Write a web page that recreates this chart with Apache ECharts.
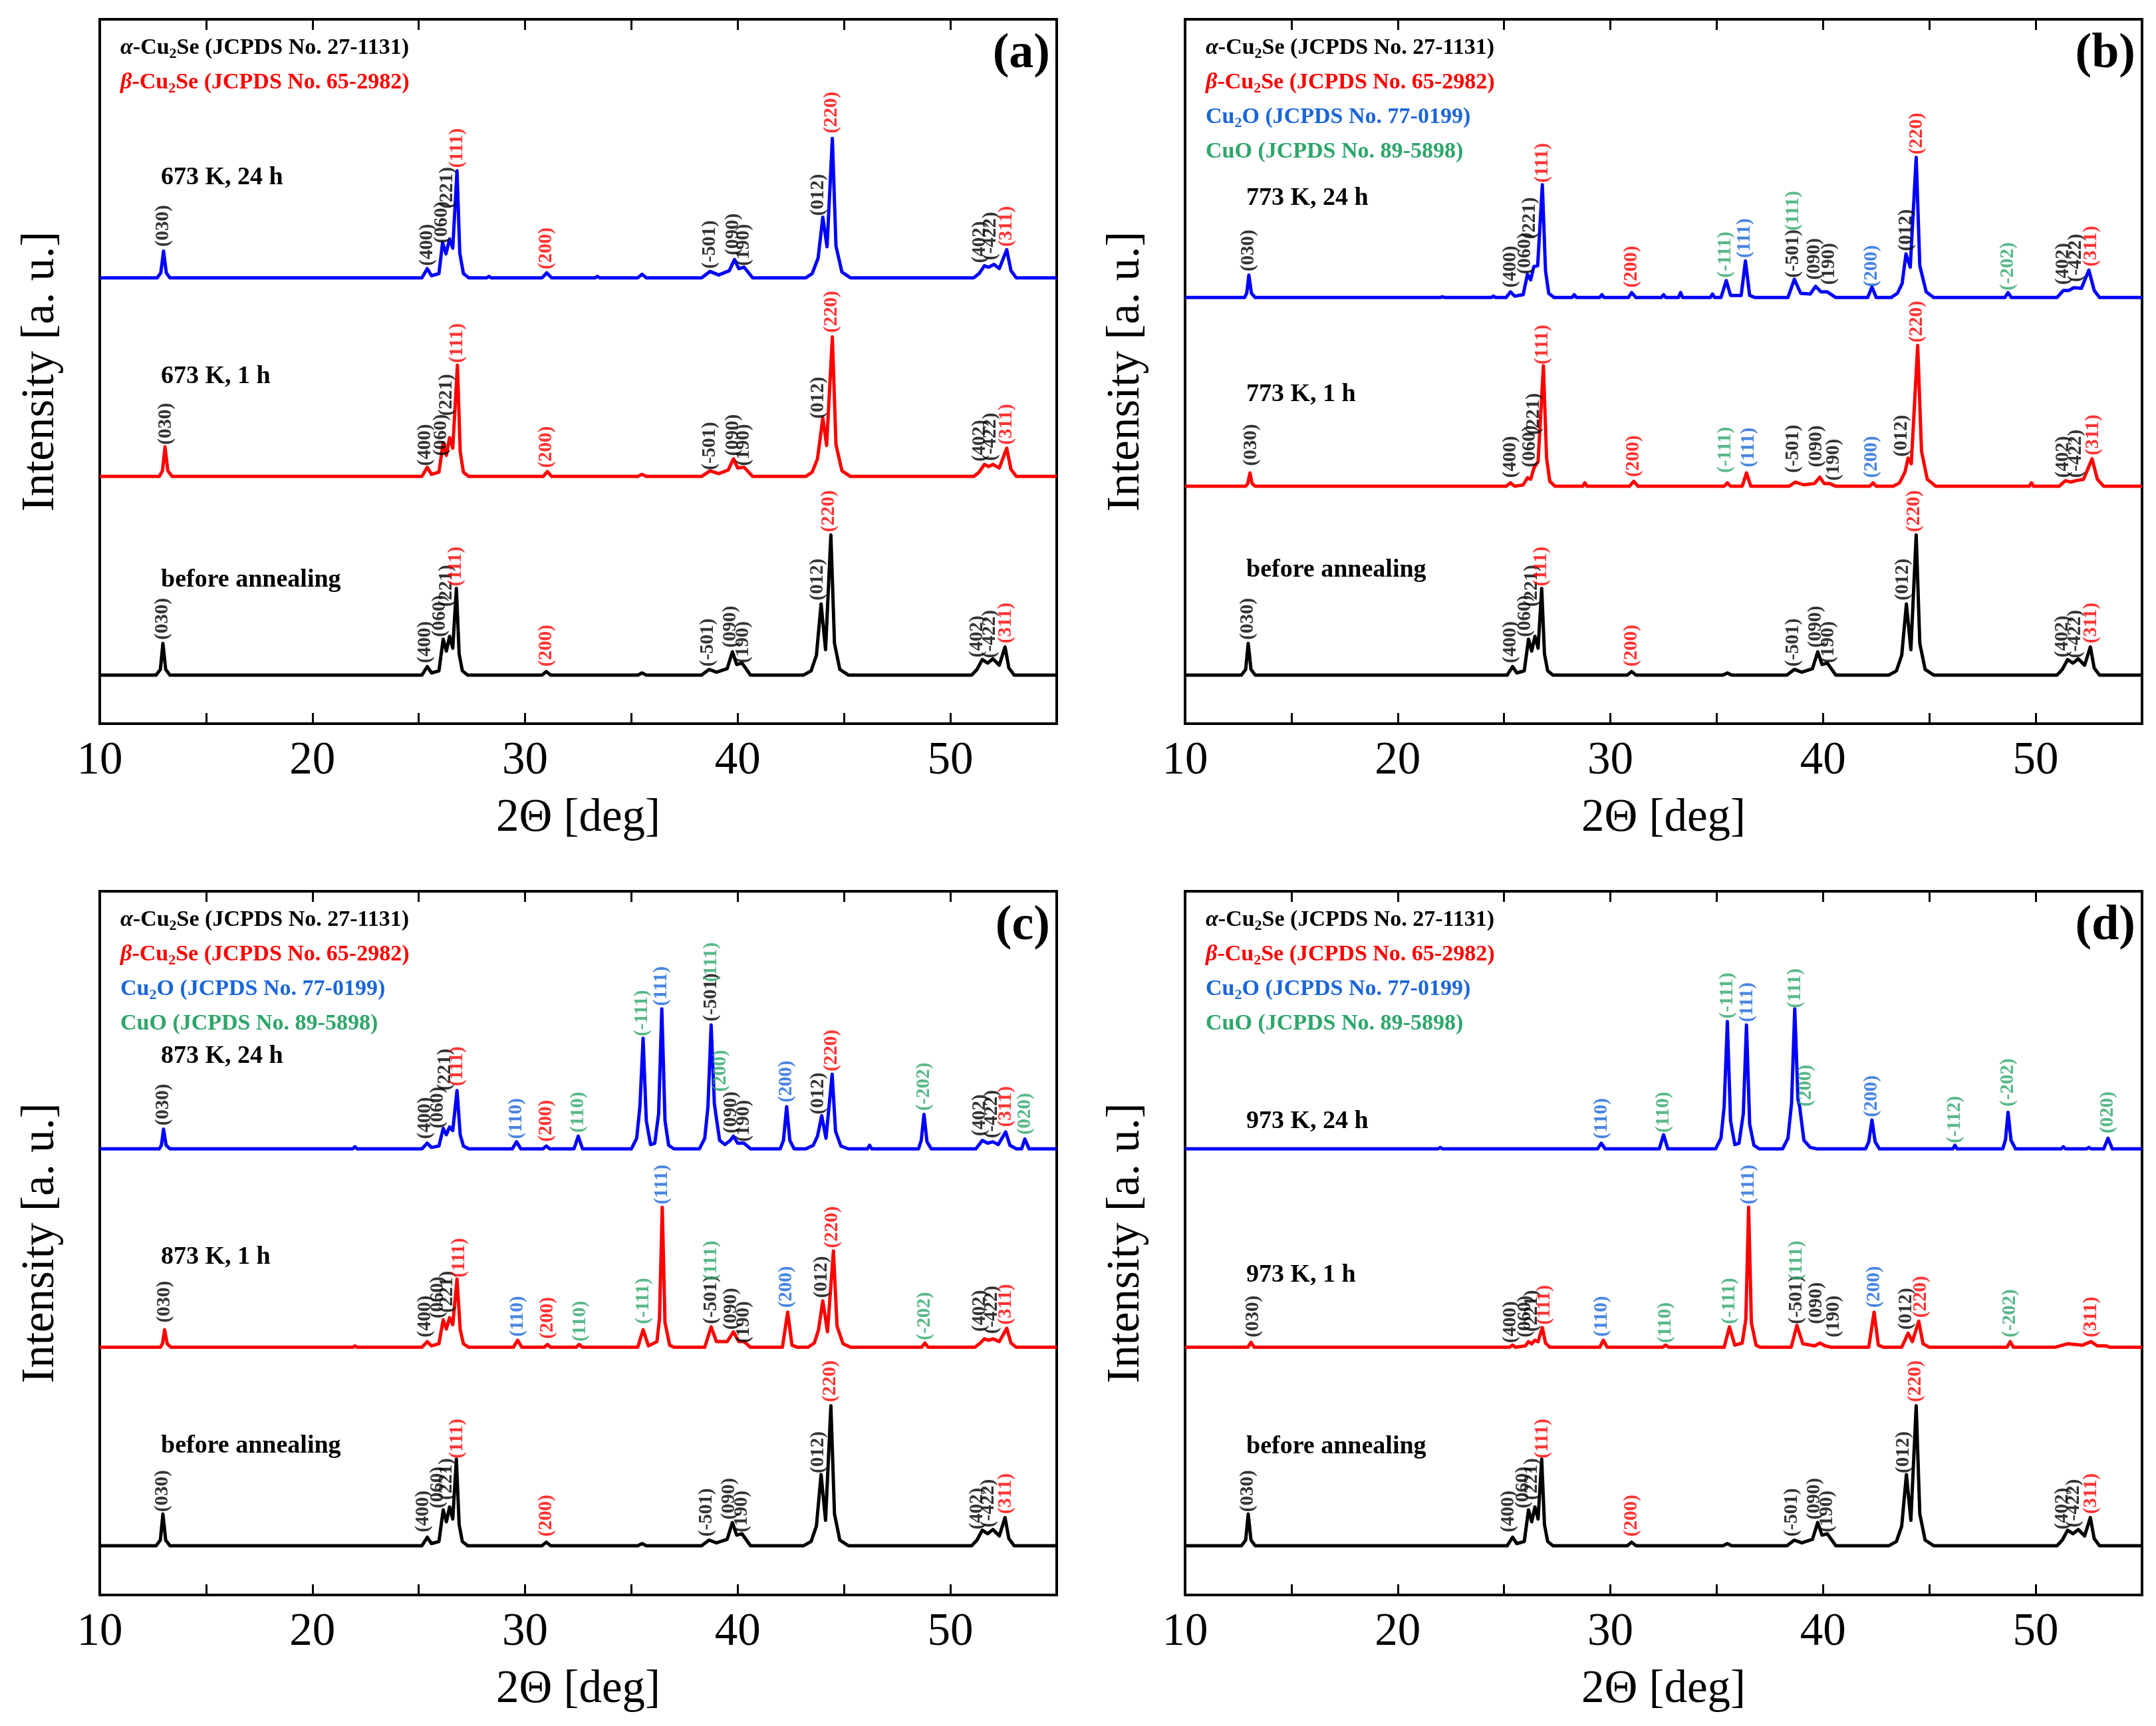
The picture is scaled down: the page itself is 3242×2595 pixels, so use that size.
<!DOCTYPE html>
<html>
<head>
<meta charset="utf-8">
<script src="https://cdn.jsdelivr.net/npm/echarts/dist/echarts.min.js"></script>
<style>
  html, body { margin: 0; padding: 0; background: #fff; }
  #chart { width: 3242px; height: 2595px; }
</style>
</head>
<body>
<div id="chart"></div>
<script>
// ---- data (2theta in deg, intensity in % of panel height above each baseline) ----
var phaseColors = ['#000000', '#ff0000', '#1a66d9', '#2ea66a'];
var phaseNames = [
  '{i|α}-Cu{s|2}Se (JCPDS No. 27-1131)',
  '{i|β}-Cu{s|2}Se (JCPDS No. 65-2982)',
  'Cu{s|2}O (JCPDS No. 77-0199)',
  'CuO (JCPDS No. 89-5898)'
];
var traceColors = ['#000000', '#ff0000', '#0000ff'];
var xTicks = [10, 20, 30, 40, 50];

// baselines of the three patterns per panel: [before, 1 h, 24 h]
var baseA = [6.9, 35.1, 63.3];
var baseB = [6.9, 33.7, 60.5];
var baseC = [7.0, 35.2, 63.4];
var baseD = [7.0, 35.2, 63.4];

var namesA = ['before annealing', '673 K, 1 h', '673 K, 24 h'];
var namesB = ['before annealing', '773 K, 1 h', '773 K, 24 h'];
var namesC = ['before annealing', '873 K, 1 h', '873 K, 24 h'];
var namesD = ['before annealing', '973 K, 1 h', '973 K, 24 h'];

// as-prepared sample (same pattern in all four panels)
var before = [[10,0],[12.65,0],[12.85,0.8],[12.97,4.5],[13.1,0.8],[13.3,0],
  [25.15,0],[25.4,1.2],[25.6,0.3],[25.95,0.6],[26.15,5.1],[26.3,3.4],[26.45,5.5],[26.6,3.8],[26.77,12.3],[26.9,3.0],[27.05,0.6],[27.3,0],
  [30.8,0],[31.0,0.5],[31.2,0],
  [35.3,0],[35.5,0.3],[35.7,0],
  [38.3,0],[38.65,0.8],[39.0,0.4],[39.5,0.9],[39.75,3.3],[39.95,1.5],[40.2,1.7],[40.6,0],
  [43.1,0],[43.45,0.6],[43.7,2.8],[43.92,10.1],[44.13,3.6],[44.38,19.9],[44.55,4.5],[44.8,0.8],[45.2,0],
  [51.0,0],[51.25,0.8],[51.5,2.2],[51.75,1.7],[52.0,2.3],[52.3,1.4],[52.57,4.0],[52.75,1.0],[53.0,0],
  [55,0]];

var a1h = [[10,0],[12.8,0],[12.95,0.8],[13.07,4.2],[13.2,0.8],[13.4,0],
  [25.15,0],[25.4,1.3],[25.6,0.3],[25.95,0.6],[26.15,4.8],[26.3,3.0],[26.45,5.5],[26.6,4.0],[26.82,15.8],[26.95,3.5],[27.1,0.6],[27.35,0],
  [30.85,0],[31.05,0.7],[31.25,0],
  [35.3,0],[35.5,0.3],[35.7,0],
  [38.3,0],[38.7,0.8],[39.1,0.4],[39.55,0.9],[39.8,2.5],[40.0,1.2],[40.3,1.3],[40.7,0],
  [43.2,0],[43.5,0.6],[43.75,2.5],[44.0,8.3],[44.18,4.4],[44.45,19.8],[44.62,4.5],[44.9,0.8],[45.3,0],
  [51.1,0],[51.35,0.6],[51.6,1.7],[51.8,1.4],[52.0,1.7],[52.3,1.2],[52.65,4.0],[52.85,1.0],[53.1,0],
  [55,0]];

var a24h = [[10,0],[12.7,0],[12.87,0.7],[13.0,3.8],[13.13,0.7],[13.3,0],
  [25.15,0],[25.4,1.3],[25.6,0.3],[25.95,0.6],[26.12,5.0],[26.28,3.4],[26.45,5.5],[26.6,4.2],[26.8,15.2],[26.93,3.5],[27.1,0.6],[27.35,0],
  [28.2,0],[28.3,0.2],[28.4,0],
  [30.8,0],[31.02,0.7],[31.25,0],
  [33.3,0],[33.4,0.2],[33.5,0],
  [35.3,0],[35.5,0.5],[35.7,0],
  [38.3,0],[38.7,0.9],[39.1,0.4],[39.6,1.0],[39.85,2.6],[40.05,1.3],[40.3,1.5],[40.7,0],
  [43.2,0],[43.5,0.6],[43.78,2.8],[44.0,8.6],[44.2,4.4],[44.45,19.8],[44.62,4.5],[44.9,0.8],[45.3,0],
  [51.1,0],[51.35,0.6],[51.6,1.7],[51.8,1.5],[52.05,1.9],[52.3,1.3],[52.65,4.0],[52.85,1.0],[53.1,0],
  [55,0]];

var b1h = [[10,0],[12.85,0],[12.95,0.4],[13.05,1.9],[13.15,0.4],[13.3,0],
  [25.1,0],[25.3,0.5],[25.5,0],[25.9,0.2],[26.1,1.2],[26.25,1.0],[26.42,2.7],[26.6,3.5],[26.85,17.1],[27.0,4.0],[27.15,0.7],[27.4,0],
  [28.7,0],[28.8,0.5],[28.9,0],
  [30.9,0],[31.1,0.7],[31.3,0],
  [35.35,0],[35.5,0.5],[35.65,0],
  [36.2,0],[36.4,1.9],[36.6,0],
  [38.4,0],[38.7,0.6],[39.1,0.2],[39.6,0.4],[39.85,1.3],[40.05,0.4],[40.3,0.4],[40.6,0],
  [42.2,0],[42.35,0.5],[42.5,0],
  [43.3,0],[43.6,0.5],[43.85,2.0],[44.0,4.0],[44.15,3.2],[44.45,20.0],[44.63,5.0],[44.9,1.0],[45.3,0],
  [49.7,0],[49.8,0.5],[49.9,0],
  [51.1,0],[51.4,0.8],[51.65,0.6],[51.9,0.8],[52.25,1.0],[52.65,3.9],[52.9,1.0],[53.2,0],
  [55,0]];

var b24h = [[10,0],[12.8,0],[12.9,0.6],[13.0,3.2],[13.12,0.6],[13.3,0],
  [22.0,0],[22.1,0.1],[22.2,0],
  [24.4,0],[24.5,0.2],[24.6,0],
  [25.1,0],[25.3,0.8],[25.5,0.2],[25.9,0.4],[26.1,3.3],[26.25,2.5],[26.4,4.4],[26.58,4.5],[26.8,16.0],[26.95,3.8],[27.1,0.6],[27.35,0],
  [28.2,0],[28.3,0.4],[28.4,0],
  [29.5,0],[29.6,0.4],[29.7,0],
  [30.85,0],[31.0,0.7],[31.2,0],
  [32.4,0],[32.5,0.4],[32.6,0],
  [33.2,0],[33.3,0.7],[33.4,0],
  [34.7,0],[34.8,0.5],[34.9,0],
  [35.2,0],[35.45,2.4],[35.65,0.3],[36.15,0.3],[36.35,5.2],[36.55,0.3],[36.8,0],
  [38.35,0],[38.65,2.6],[38.95,0.6],[39.4,0.5],[39.65,1.6],[39.9,0.8],[40.2,0.8],[40.6,0],
  [42.1,0],[42.3,1.5],[42.5,0],
  [43.2,0],[43.5,0.6],[43.72,2.0],[43.9,6.2],[44.1,4.3],[44.38,19.9],[44.55,4.5],[44.85,0.8],[45.2,0],
  [48.55,0],[48.7,0.7],[48.85,0],
  [51.0,0],[51.3,1.0],[51.55,1.0],[51.8,1.4],[52.15,1.3],[52.5,3.9],[52.75,1.0],[53.0,0],
  [55,0]];

var c1h = [[10,0],[12.85,0],[12.95,0.5],[13.05,2.5],[13.17,0.5],[13.35,0],
  [21.9,0],[22.0,0.2],[22.1,0],
  [25.15,0],[25.4,0.8],[25.6,0.2],[25.95,0.5],[26.15,3.9],[26.3,2.6],[26.45,4.2],[26.6,3.2],[26.8,9.7],[26.95,2.5],[27.1,0.5],[27.35,0],
  [29.45,0],[29.65,1.0],[29.85,0],
  [30.9,0],[31.05,0.4],[31.2,0],
  [32.4,0],[32.55,0.4],[32.7,0],
  [35.3,0],[35.55,2.5],[35.8,0.2],[36.2,0.8],[36.32,4.0],[36.45,19.9],[36.58,3.5],[36.8,0.3],[37.0,0],
  [38.45,0],[38.75,2.9],[39.0,0.8],[39.5,0.8],[39.8,2.2],[40.05,0.8],[40.3,0.8],[40.6,0],
  [42.1,0],[42.35,5.0],[42.55,0.3],[42.8,0],
  [43.3,0],[43.6,0.6],[43.8,2.5],[44.0,6.6],[44.22,2.2],[44.5,13.7],[44.67,3.0],[44.95,0.5],[45.3,0],
  [48.65,0],[48.8,0.6],[48.95,0],
  [51.15,0],[51.4,0.6],[51.6,1.2],[51.8,1.0],[52.0,1.2],[52.3,0.8],[52.65,2.7],[52.85,0.6],[53.1,0],
  [55,0]];

var c24h = [[10,0],[12.8,0],[12.9,0.5],[13.0,2.8],[13.12,0.5],[13.3,0],
  [21.9,0],[22.0,0.3],[22.1,0],
  [25.15,0],[25.4,0.8],[25.6,0.2],[25.95,0.4],[26.15,2.9],[26.3,2.0],[26.45,3.1],[26.6,2.6],[26.8,8.3],[26.95,2.0],[27.1,0.4],[27.35,0],
  [29.4,0],[29.6,1.0],[29.8,0],
  [30.85,0],[31.0,0.4],[31.15,0],
  [32.3,0],[32.5,1.8],[32.7,0],
  [35.0,0],[35.25,1.5],[35.4,6.0],[35.55,15.7],[35.7,4.0],[35.9,0.6],[36.1,0.8],[36.28,5.0],[36.43,19.9],[36.58,4.0],[36.75,0.5],[37.0,0],
  [38.2,0],[38.45,1.5],[38.6,6.0],[38.75,17.6],[38.9,6.5],[38.97,4.9],[39.15,1.2],[39.4,0.6],[39.65,1.2],[39.8,1.8],[40.0,0.8],[40.3,0.8],[40.6,0],
  [42.0,0],[42.15,1.2],[42.3,6.0],[42.45,1.2],[42.65,0],
  [43.2,0],[43.55,0.5],[43.75,1.8],[43.95,4.7],[44.15,1.5],[44.44,10.6],[44.6,2.5],[44.85,0.4],[45.2,0],
  [46.1,0],[46.2,0.5],[46.3,0],
  [48.5,0],[48.63,1.2],[48.76,4.9],[48.9,1.0],[49.1,0],
  [51.2,0],[51.5,1.2],[51.75,0.8],[52.0,1.0],[52.25,0.6],[52.6,2.4],[52.8,0.5],[53.1,0],[53.35,0],[53.5,1.4],[53.7,0],
  [55,0]];

var d1h = [[10,0],[12.95,0],[13.1,0.7],[13.25,0],
  [25.25,0],[25.4,0.3],[25.55,0],[26.0,0.2],[26.15,0.8],[26.3,0.5],[26.45,1.0],[26.6,0.8],[26.8,2.8],[26.95,0.6],[27.15,0],
  [29.5,0],[29.67,1.0],[29.85,0],
  [32.45,0],[32.6,0.3],[32.75,0],
  [35.35,0],[35.6,2.9],[35.85,0.3],[36.2,0.6],[36.37,4.0],[36.5,19.9],[36.63,3.5],[36.85,0.3],[37.05,0],
  [38.5,0],[38.77,3.1],[39.05,0.5],[39.6,0.2],[39.85,0.6],[40.1,0.2],[40.4,0],
  [42.15,0],[42.4,5.0],[42.6,0.3],[42.85,0],
  [43.7,0],[44.0,2.0],[44.2,0.8],[44.5,3.7],[44.7,0.5],[45.0,0],
  [48.65,0],[48.8,0.8],[48.95,0],
  [50.9,0],[51.5,0.5],[52.2,0.3],[52.6,0.8],[52.9,0.2],[53.3,0.2],[53.5,0],
  [55,0]];

var d24h = [[10,0],[21.9,0],[22.0,0.2],[22.1,0],
  [29.4,0],[29.57,0.8],[29.75,0],
  [32.3,0],[32.5,2.0],[32.7,0],
  [34.95,0],[35.2,1.5],[35.35,6.0],[35.5,18.1],[35.65,4.0],[35.85,0.6],[36.05,0.8],[36.25,5.0],[36.4,17.6],[36.55,3.5],[36.75,0.5],[37.0,0],
  [38.1,0],[38.35,1.5],[38.52,6.5],[38.67,19.9],[38.82,7.0],[38.9,6.0],[39.1,1.2],[39.4,0.2],[39.7,0],
  [42.0,0],[42.15,1.0],[42.3,4.1],[42.45,1.0],[42.65,0],
  [46.1,0],[46.2,0.5],[46.3,0],
  [48.45,0],[48.58,1.3],[48.7,5.2],[48.84,1.2],[49.05,0],
  [51.2,0],[51.3,0.3],[51.4,0],[52.4,0],[52.5,0.2],[52.6,0],
  [53.2,0],[53.4,1.5],[53.6,0],
  [55,0]];

// peak labels: [2theta, label foot above baseline, text, phase]
var labBeforeAB = [[12.97,5.0,'(030)',0],[25.3,1.7,'(400)',0],[26.0,5.4,'(060)',0],[26.3,9.7,'(221)',0],[26.75,12.6,'(111)',1],[31.0,1.2,'(200)',1],[38.6,1.2,'(-501)',0],[39.65,3.9,'(090)',0],[40.25,1.7,'(190)',0],[43.75,10.6,'(012)',0],[44.3,20.3,'(220)',1],[51.25,2.5,'(402)',0],[51.85,2.4,'(-422)',0],[52.6,4.5,'(311)',1]];
var labBeforeCD = [[12.97,4.8,'(030)',0],[25.2,1.9,'(400)',0],[25.9,5.3,'(060)',0],[26.3,6.5,'(221)',0],[26.8,12.4,'(111)',1],[31.0,1.3,'(200)',1],[38.55,1.3,'(-501)',0],[39.6,3.7,'(090)',0],[40.2,1.9,'(190)',0],[43.8,10.3,'(012)',0],[44.35,20.4,'(220)',1],[51.25,2.3,'(402)',0],[51.8,2.6,'(-422)',0],[52.6,4.5,'(311)',1]];
var labA1h = [[13.1,4.5,'(030)',0],[25.3,1.5,'(400)',0],[26.05,2.9,'(060)',0],[26.3,8.6,'(221)',0],[26.8,16.1,'(111)',1],[31.0,1.2,'(200)',1],[38.7,0.9,'(-501)',0],[39.8,2.9,'(090)',0],[40.3,1.5,'(190)',0],[43.8,8.2,'(012)',0],[44.4,20.4,'(220)',1],[51.4,2.1,'(402)',0],[51.9,2.2,'(-422)',0],[52.65,4.5,'(311)',1]];
var labA24h = [[13.0,4.4,'(030)',0],[25.4,1.7,'(400)',0],[26.1,4.9,'(060)',0],[26.35,9.8,'(221)',0],[26.8,15.6,'(111)',1],[31.0,1.2,'(200)',1],[38.7,1.3,'(-501)',0],[39.8,3.2,'(090)',0],[40.3,1.7,'(190)',0],[43.8,8.8,'(012)',0],[44.4,20.5,'(220)',1],[51.4,2.1,'(402)',0],[51.9,2.5,'(-422)',0],[52.65,4.4,'(311)',1]];
var labB1h = [[13.1,2.9,'(030)',0],[25.3,1.2,'(400)',0],[26.2,2.7,'(060)',0],[26.4,7.3,'(221)',0],[26.8,17.3,'(111)',1],[31.1,1.3,'(200)',1],[35.4,1.9,'(-111)',3],[36.5,2.7,'(111)',2],[38.6,1.9,'(-501)',0],[39.7,2.7,'(090)',0],[40.5,0.8,'(190)',0],[42.3,1.2,'(200)',2],[43.7,4.2,'(012)',0],[44.4,20.4,'(220)',1],[51.3,1.2,'(402)',0],[51.9,1.2,'(-422)',0],[52.7,4.4,'(311)',1]];
var labB24h = [[13.0,3.7,'(030)',0],[25.3,1.4,'(400)',0],[26.0,3.3,'(060)',0],[26.2,8.3,'(221)',0],[26.8,16.3,'(111)',1],[31.0,1.4,'(200)',1],[35.4,2.8,'(-111)',3],[36.3,5.6,'(111)',2],[38.6,2.8,'(-501)',0],[38.6,9.5,'(111)',3],[39.6,2.5,'(090)',0],[40.3,1.8,'(190)',0],[42.3,1.5,'(200)',2],[43.9,6.6,'(012)',0],[44.4,20.3,'(220)',1],[48.7,1.0,'(-202)',3],[51.3,1.8,'(402)',0],[51.9,2.2,'(-422)',0],[52.6,4.4,'(311)',1]];
var labC1h = [[13.05,3.5,'(030)',0],[25.3,1.4,'(400)',0],[25.9,4.1,'(060)',0],[26.35,4.9,'(221)',0],[26.9,9.9,'(111)',1],[29.65,1.5,'(110)',2],[31.05,1.2,'(200)',1],[32.6,0.8,'(110)',3],[35.55,3.3,'(-111)',3],[36.45,20.3,'(111)',2],[38.75,3.3,'(-501)',0],[38.75,9.5,'(111)',3],[39.7,2.5,'(090)',0],[40.3,0.6,'(190)',0],[42.3,5.6,'(200)',2],[43.95,7.0,'(012)',0],[44.45,14.1,'(220)',1],[48.8,1.0,'(-202)',3],[51.4,2.2,'(402)',0],[51.95,1.9,'(-422)',0],[52.6,3.2,'(311)',1]];
var labC24h = [[13.0,3.3,'(030)',0],[25.3,1.4,'(400)',0],[25.9,2.9,'(060)',0],[26.25,8.3,'(221)',0],[26.8,8.9,'(111)',1],[29.6,1.4,'(110)',2],[31.0,1.0,'(200)',1],[32.5,2.3,'(110)',3],[35.5,16.0,'(-111)',3],[36.4,20.3,'(111)',2],[38.75,18.1,'(-501)',0],[38.75,23.7,'(111)',3],[39.2,8.1,'(200)',3],[39.7,2.2,'(090)',0],[40.3,1.0,'(190)',0],[42.3,6.6,'(200)',2],[43.8,4.9,'(012)',0],[44.4,11.0,'(220)',1],[48.76,5.4,'(-202)',3],[51.4,1.8,'(402)',0],[51.95,1.5,'(-422)',0],[52.6,3.1,'(311)',1],[53.5,2.0,'(020)',3]];
var labD1h = [[13.2,1.4,'(030)',0],[25.3,0.6,'(400)',0],[26.0,1.4,'(060)',0],[26.3,2.2,'(221)',0],[26.9,3.2,'(111)',1],[29.6,1.5,'(110)',2],[32.6,0.6,'(110)',3],[35.6,3.3,'(-111)',3],[36.5,20.3,'(111)',2],[38.75,3.3,'(-501)',0],[38.75,9.5,'(111)',3],[39.7,3.3,'(090)',0],[40.5,1.4,'(190)',0],[42.4,5.6,'(200)',2],[43.9,2.5,'(012)',0],[44.6,4.2,'(220)',1],[48.8,1.4,'(-202)',3],[52.6,1.4,'(311)',1]];
var labD24h = [[29.6,1.4,'(110)',2],[32.5,2.3,'(110)',3],[35.5,18.5,'(-111)',3],[36.45,18.0,'(111)',2],[38.7,20.0,'(111)',3],[39.2,6.0,'(200)',3],[42.3,4.5,'(200)',2],[46.2,0.8,'(-112)',3],[48.7,6.0,'(-202)',3],[53.4,2.2,'(020)',3]];

// ---- layout ----
var W = 3242;
var serif = 'Liberation Serif';
var boxes = [
  { left: 150, top: 29, width: 1439, height: 1059 },
  { left: 1782, top: 29, width: 1439, height: 1059 },
  { left: 150, top: 1340, width: 1439, height: 1058 },
  { left: 1782, top: 1340, width: 1439, height: 1058 }
];
var panels = [
  { letter: '(a)', nPhases: 2, base: baseA, names: namesA, nameY: [843, 537, 238],
    traces: [before, a1h, a24h], labels: [labBeforeAB, labA1h, labA24h] },
  { letter: '(b)', nPhases: 4, base: baseB, names: namesB, nameY: [828, 564, 269],
    traces: [before, b1h, b24h], labels: [labBeforeAB, labB1h, labB24h] },
  { letter: '(c)', nPhases: 4, base: baseC, names: namesC, nameY: [834, 550, 248],
    traces: [before, c1h, c24h], labels: [labBeforeCD, labC1h, labC24h] },
  { letter: '(d)', nPhases: 4, base: baseD, names: namesD, nameY: [835, 577, 346],
    traces: [before, d1h, d24h], labels: [labBeforeCD, labD1h, labD24h] }
];

var grids = [], xAxes = [], yAxes = [], series = [], titles = [];

function legendRich(color) {
  return {
    i: { fontFamily: serif, fontSize: 34, fontWeight: 'bold', fontStyle: 'italic', color: color, lineHeight: 40 },
    s: { fontFamily: serif, fontSize: 22, fontWeight: 'bold', color: color, lineHeight: 22, verticalAlign: 'bottom' }
  };
}

panels.forEach(function (p, k) {
  var b = boxes[k];
  grids.push({ left: b.left, top: b.top, width: b.width, height: b.height,
    show: true, borderColor: '#000', borderWidth: 4, backgroundColor: 'transparent' });

  var tick = { show: true, inside: true, length: 16, lineStyle: { color: '#000', width: 3 } };
  xAxes.push({
    gridIndex: k, type: 'value', min: 10, max: 55, interval: 5, position: 'bottom',
    axisLine: { show: false }, axisTick: tick, splitLine: { show: false },
    axisLabel: { margin: 22, fontFamily: serif, fontSize: 69, color: '#000',
      formatter: function (v) { return xTicks.indexOf(v) >= 0 ? String(v) : ''; } },
    name: '2Θ [deg]', nameLocation: 'middle', nameGap: 108,
    nameTextStyle: { fontFamily: serif, fontSize: 69, color: '#000' }
  });
  xAxes.push({
    gridIndex: k, type: 'value', min: 10, max: 55, interval: 5, position: 'top',
    axisLine: { show: false }, axisTick: tick, splitLine: { show: false },
    axisLabel: { show: false }
  });
  yAxes.push({
    gridIndex: k, type: 'value', min: 0, max: 100,
    axisLine: { show: false }, axisTick: { show: false }, axisLabel: { show: false },
    splitLine: { show: false },
    name: 'Intensity [a. u.]', nameLocation: 'middle', nameGap: 54,
    nameTextStyle: { fontFamily: serif, fontSize: 69, color: '#000' }
  });

  p.traces.forEach(function (pts, t) {
    var off = p.base[t];
    series.push({
      type: 'line', xAxisIndex: 2 * k, yAxisIndex: k, symbol: 'none', silent: true,
      lineStyle: { color: traceColors[t], width: 5, join: 'round' },
      data: pts.map(function (d) { return [d[0], d[1] + off]; }),
      z: 2
    });
    series.push({
      type: 'scatter', xAxisIndex: 2 * k, yAxisIndex: k, symbolSize: 0.01, silent: true,
      itemStyle: { color: 'rgba(0,0,0,0)' },
      label: { show: true, formatter: '{b}', rotate: 90, position: 'inside',
        align: 'left', verticalAlign: 'middle',
        fontFamily: serif, fontWeight: 'bold', fontSize: 29 },
      data: p.labels[t].map(function (l) {
        return { value: [l[0], l[1] + off], name: l[2], label: { color: phaseColors[l[3]] } };
      }),
      z: 3
    });
  });

  // phase legend
  for (var i = 0; i < p.nPhases; i++) {
    titles.push({
      text: phaseNames[i], left: b.left + 31, top: b.top + 23 + i * 52, padding: 0,
      textStyle: { fontFamily: serif, fontSize: 34, fontWeight: 'bold', color: phaseColors[i],
        lineHeight: 40, rich: legendRich(phaseColors[i]) }
    });
  }
  // panel letter
  titles.push({
    text: p.letter, right: W - (b.left + b.width) + 10, top: b.top + 16, padding: 0,
    textStyle: { fontFamily: serif, fontSize: 74, fontWeight: 'bold', color: '#000', lineHeight: 74 }
  });
  // sample names
  p.names.forEach(function (n, t) {
    titles.push({
      text: n, left: b.left + 92, top: b.top + p.nameY[t] - 22, padding: 0,
      textStyle: { fontFamily: serif, fontSize: 38, fontWeight: 'bold', color: '#000', lineHeight: 44 }
    });
  });
});

var chart = echarts.init(document.getElementById('chart'));
chart.setOption({
  animation: false,
  backgroundColor: '#fff',
  title: titles,
  grid: grids,
  xAxis: xAxes,
  yAxis: yAxes,
  series: series
});
</script>
</body>
</html>
